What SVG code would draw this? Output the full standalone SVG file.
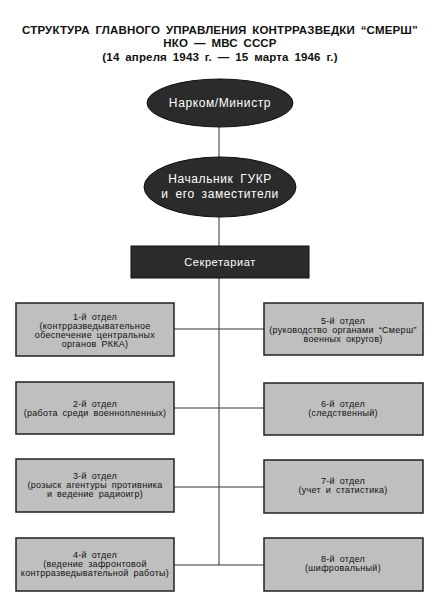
<svg xmlns="http://www.w3.org/2000/svg" width="437" height="600" viewBox="0 0 437 600">
<style>
.title{font-family:"Liberation Sans",Arial,sans-serif;font-weight:bold;font-size:11.5px;fill:#111;text-anchor:middle;letter-spacing:0.15px;word-spacing:2.5px}
.dark{fill:#2b2b2b;stroke:#111;stroke-width:1}
.wt{font-family:"Liberation Sans",Arial,sans-serif;font-size:12px;fill:#fff;text-anchor:middle;letter-spacing:0.6px}
.box{fill:#bfbfbf;stroke:#222;stroke-width:1.5}
.bt{font-family:"Liberation Sans",Arial,sans-serif;font-size:9px;fill:#111;text-anchor:middle;letter-spacing:0.3px;word-spacing:2px}
.ln{stroke:#333;stroke-width:1;fill:none}
</style>
<rect width="437" height="600" fill="#fff"/>
<g id="title">
<text class="title" x="220" y="34">СТРУКТУРА ГЛАВНОГО УПРАВЛЕНИЯ КОНТРРАЗВЕДКИ “СМЕРШ”</text>
<text class="title" x="220" y="47">НКО — МВС СССР</text>
<text class="title" x="220" y="61">(14 апреля 1943 г. — 15 марта 1946 г.)</text>
</g>
<g id="connectors">
<line class="ln" x1="219" y1="127" x2="219" y2="157"/>
<line class="ln" x1="219" y1="217" x2="219" y2="246"/>
<line class="ln" x1="219" y1="278" x2="219" y2="565"/>
<line class="ln" x1="174" y1="329" x2="264" y2="329"/>
<line class="ln" x1="174" y1="408" x2="264" y2="408"/>
<line class="ln" x1="174" y1="487" x2="264" y2="487"/>
<line class="ln" x1="174" y1="565" x2="264" y2="565"/>
</g>
<g id="narkom">
<ellipse class="dark" cx="220" cy="103" rx="73" ry="24"/>
<text class="wt" x="220" y="107">Нарком/Министр</text>
</g>
<g id="chief">
<ellipse class="dark" cx="220" cy="187" rx="76" ry="30"/>
<text class="wt" x="220" y="183" style="word-spacing:3px">Начальник ГУКР</text>
<text class="wt" x="220" y="198" style="word-spacing:3px">и его заместители</text>
</g>
<g id="secretariat">
<rect class="dark" x="131" y="246" width="178" height="32"/>
<text class="wt" x="220" y="266" style="font-size:11px">Секретариат</text>
</g>
<g id="dept1">
<rect class="box" x="16" y="303" width="158" height="53"/>
<text class="bt" x="95" y="320">1-й отдел</text>
<text class="bt" x="95" y="329">(контрразведывательное</text>
<text class="bt" x="95" y="338">обеспечение центральных</text>
<text class="bt" x="95" y="347">органов РККА)</text>
</g>
<g id="dept2">
<rect class="box" x="16" y="382" width="158" height="52"/>
<text class="bt" x="95" y="407">2-й отдел</text>
<text class="bt" x="95" y="416">(работа среди военнопленных)</text>
</g>
<g id="dept3">
<rect class="box" x="16" y="459" width="158" height="53"/>
<text class="bt" x="95" y="479">3-й отдел</text>
<text class="bt" x="95" y="488">(розыск агентуры противника</text>
<text class="bt" x="95" y="497">и ведение радиоигр)</text>
</g>
<g id="dept4">
<rect class="box" x="16" y="538" width="158" height="53"/>
<text class="bt" x="95" y="558">4-й отдел</text>
<text class="bt" x="95" y="567">(ведение зафронтовой</text>
<text class="bt" x="95" y="576">контрразведывательной работы)</text>
</g>
<g id="dept5">
<rect class="box" x="264" y="303" width="159" height="52"/>
<text class="bt" x="343" y="324">5-й отдел</text>
<text class="bt" x="343" y="333">(руководство органами “Смерш”</text>
<text class="bt" x="343" y="342">военных округов)</text>
</g>
<g id="dept6">
<rect class="box" x="264" y="383" width="159" height="52"/>
<text class="bt" x="343" y="407">6-й отдел</text>
<text class="bt" x="343" y="416">(следственный)</text>
</g>
<g id="dept7">
<rect class="box" x="264" y="460" width="159" height="53"/>
<text class="bt" x="343" y="484">7-й отдел</text>
<text class="bt" x="343" y="493">(учет и статистика)</text>
</g>
<g id="dept8">
<rect class="box" x="264" y="538" width="159" height="53"/>
<text class="bt" x="343" y="562">8-й отдел</text>
<text class="bt" x="343" y="571">(шифровальный)</text>
</g>
</svg>
